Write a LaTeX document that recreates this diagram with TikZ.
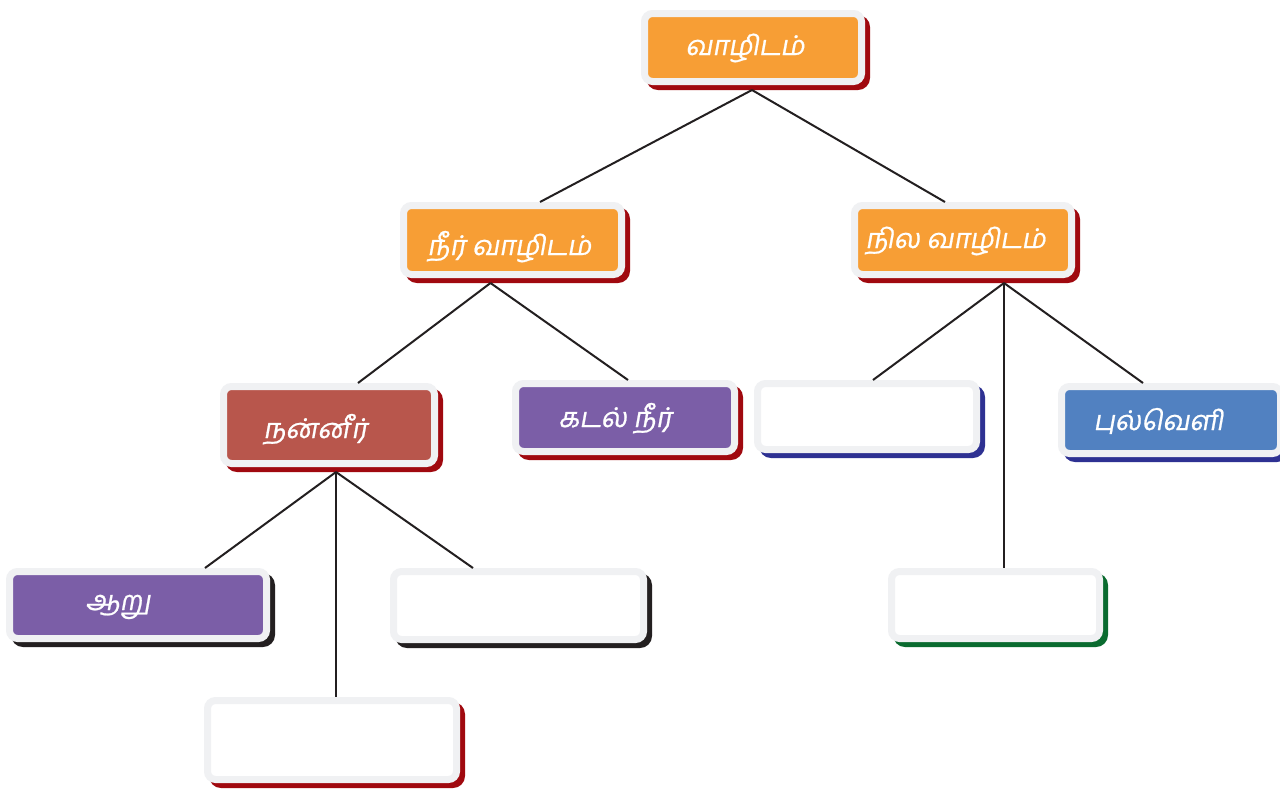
\documentclass[tikz,border=0pt]{standalone}
\usepackage{fontspec}
\newfontfamily\tamil[Script=Tamil,FakeSlant=0.18,FakeBold=0.8]{Hind Madurai}
\usetikzlibrary{calc}
\definecolor{rim}{HTML}{F0F1F3}
\definecolor{orng}{HTML}{F79E35}
\definecolor{dred}{HTML}{A0090F}
\definecolor{brick}{HTML}{B8564C}
\definecolor{purp}{HTML}{7B5EA7}
\definecolor{sky}{HTML}{5181C1}
\definecolor{navy}{HTML}{2E3192}
\definecolor{dgreen}{HTML}{0A6B2F}
\definecolor{ink}{HTML}{231F20}
\tikzset{
  boxnode/.style={draw=rim, line width=3.5pt, rounded corners=4pt, inner sep=0pt},
  conn/.style={draw=ink, line width=1pt},
  txt/.style={text=white, font=\tamil\fontsize{13.6}{16}\selectfont, inner sep=0pt, anchor=base west}
}
% name, x1, y1, x2, y2, fill, shadow
\newcommand\tbox[7]{%
  \fill[#7, rounded corners=6pt] ({#2+5},{#3+5}) rectangle ({#4+5},{#5+5});
  \node[boxnode, fill=#6, minimum width={(#4-#2-7)*0.5pt}, minimum height={(#5-#3-7)*0.5pt}]
    (#1) at ({(#2+#4)/2},{(#3+#5)/2}) {};
}
\begin{document}
\begin{tikzpicture}[x=0.5pt,y=-0.5pt]
\clip (0,0) rectangle (1280,789);
\fill[white] (0,0) rectangle (1280,789);

\tbox{top}{641}{10}{865}{85}{orng}{dred}
\tbox{nir}{400}{202}{625}{278}{orng}{dred}
\tbox{nila}{851}{202}{1075}{278}{orng}{dred}
\tbox{nanneer}{220}{383}{438}{467}{brick}{dred}
\tbox{kadal}{512}{380}{738}{455}{purp}{dred}
\tbox{blankA}{754}{380}{980}{453}{white}{navy}
\tbox{pul}{1058}{383}{1284}{457}{sky}{navy}
\tbox{aaru}{6}{568}{270}{642}{purp}{ink}
\tbox{blankB}{390}{568}{647}{643}{white}{ink}
\tbox{blankC}{204}{697}{460}{783}{white}{dred}
\tbox{blankD}{888}{568}{1103}{642}{white}{dgreen}

\node[txt] (ttop) at (685,55) {வாழிடம்};
\node[txt] (tnir) at (427,255) {நீர் வாழிடம்};
\node[txt] (tnila) at (865,248) {நில வாழிடம்};
\node[txt] (tnan) at (263,438) {நன்னீர்};
\node[txt] (tkad) at (558,427) {கடல் நீர்};
\node[txt] (tpul) at (1093,430) {புல்வெளி};
\node[txt] (taar) at (85,610) {ஆறு};

% junctions below each parent
\coordinate (jtop) at ($(top.south)+(-1,5)$);
\coordinate (jnir) at ($(nir.south)+(-22,5)$);
\coordinate (jnila) at ($(nila.south)+(41,5)$);
\coordinate (jnan) at ($(nanneer.south)+(7,5)$);

\draw[conn] (jtop) -- ($(nir.north)+(27.5,0)$);
\draw[conn] (jtop) -- ($(nila.north)+(-18,0)$);
\draw[conn] (jnir) -- ($(nanneer.north)+(29,0)$);
\draw[conn] (jnir) -- ($(kadal.north)+(3,0)$);
\draw[conn] (jnila) -- ($(blankA.north)+(6,0)$);
\draw[conn] (jnila) -- ($(blankD.north)+(8.5,0)$);
\draw[conn] (jnila) -- ($(pul.north)+(-28,0)$);
\draw[conn] (jnan) -- ($(aaru.north)+(67,0)$);
\draw[conn] (jnan) -- ($(blankC.north)+(4,0)$);
\draw[conn] (jnan) -- ($(blankB.north)+(-45.5,0)$);
\end{tikzpicture}
\end{document}
